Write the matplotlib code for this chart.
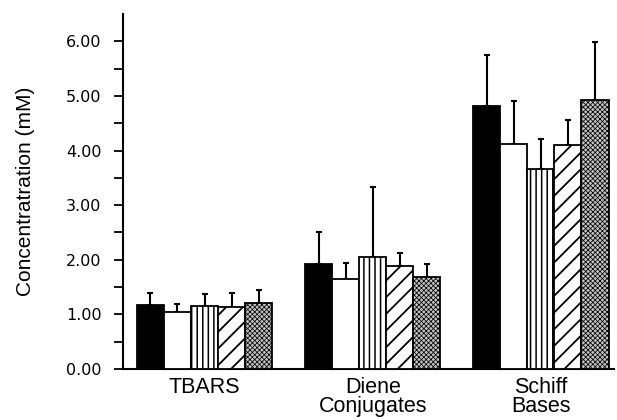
import matplotlib
matplotlib.use("Agg")
import matplotlib.pyplot as plt
import numpy as np

categories = ["TBARS", "Diene\nConjugates", "Schiff\nBases"]
series_names = ["Group 1", "Group 2", "Group 3", "Group 4", "Group 5"]
# mean values per series (one value per category)
means = {
    "Group 1": [1.18, 1.92, 4.82],
    "Group 2": [1.04, 1.64, 4.12],
    "Group 3": [1.16, 2.05, 3.66],
    "Group 4": [1.14, 1.89, 4.10],
    "Group 5": [1.20, 1.68, 4.93],
}
# upper error (SD) per series
errors = {
    "Group 1": [0.22, 0.59, 0.93],
    "Group 2": [0.15, 0.31, 0.78],
    "Group 3": [0.21, 1.29, 0.55],
    "Group 4": [0.26, 0.23, 0.46],
    "Group 5": [0.25, 0.24, 1.05],
}
yticks = [0, 1, 2, 3, 4, 5, 6]
ytick_labels = ["0.00", "1.00", "2.00", "3.00", "4.00", "5.00", "6.00"]

styles = [
    dict(facecolor="black", hatch=None, hlw=1.0),
    dict(facecolor="white", hatch=None, hlw=1.0),
    dict(facecolor="white", hatch="|||", hlw=1.1),
    dict(facecolor="white", hatch="//", hlw=1.3),
    dict(facecolor="#c4c4c4", hatch="xxxxxxx", hlw=0.55),
]

fig = plt.figure(figsize=(6.17, 4.2), dpi=100)
ax = fig.add_axes([123 / 617, 51 / 420, 491 / 617, 355 / 420])

x = np.arange(len(categories))
width = 0.161
for j, name in enumerate(series_names):
    pos = x + (j - 2) * width
    st = styles[j]
    with plt.rc_context({"hatch.linewidth": st["hlw"]}):
        ax.bar(pos, means[name], width, color=st["facecolor"], edgecolor="black",
               linewidth=1.3, hatch=st["hatch"], zorder=3)
    yerr = [np.zeros(len(categories)), errors[name]]
    ax.errorbar(pos, means[name], yerr=yerr, fmt="none", ecolor="black",
                elinewidth=1.5, capsize=2.5, capthick=1.5, zorder=2)

ax.set_xlim(-0.485, 2.435)
ax.set_ylim(0, 6.5)
ax.set_yticks(yticks)
ax.set_yticklabels(ytick_labels, fontfamily="DejaVu Sans", fontsize=11.5)
ax.set_yticks(np.arange(0.5, 6.5, 1.0), minor=True)
ax.tick_params(axis="y", which="both", direction="out", length=6.5, width=1.3, pad=9)
ax.set_xticks(x)
ax.set_xticklabels(categories, fontfamily="Liberation Sans", fontsize=15.5, linespacing=0.85)
ax.tick_params(axis="x", length=0, pad=6)

for s in ["top", "right"]:
    ax.spines[s].set_visible(False)
for s in ["left", "bottom"]:
    ax.spines[s].set_linewidth(1.5)

ax.set_ylabel("Concentratration (mM)", fontfamily="Liberation Sans", fontsize=15, labelpad=22)

fig.savefig("out.png", dpi=100)
